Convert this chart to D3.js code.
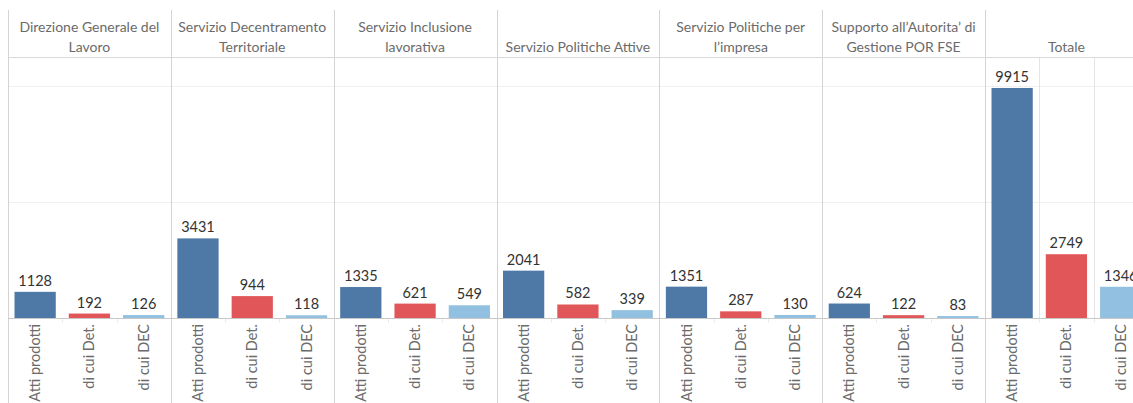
<!DOCTYPE html>
<html>
<head>
<meta charset="utf-8">
<script src="https://cdn.jsdelivr.net/npm/d3@7"></script>
<style>
  body { margin: 0; background: #fff; }
  svg { display: block; font-family: Lato, "Open Sans", sans-serif; }
</style>
</head>
<body>
<div id="chart-area"></div>
<script>
// data
const categories = [
  "Direzione Generale del Lavoro",
  "Servizio Decentramento Territoriale",
  "Servizio Inclusione lavorativa",
  "Servizio Politiche Attive",
  "Servizio Politiche per l\u2019impresa",
  "Supporto all\u2019Autorita\u2019 di Gestione POR FSE",
  "Totale"
];
const measures = ["Atti prodotti", "di cui Det.", "di cui DEC"];
const attiProdotti = [1128, 3431, 1335, 2041, 1351, 624, 9915];
const diCuiDet = [192, 944, 621, 582, 287, 122, 2749];
const diCuiDec = [126, 118, 549, 339, 130, 83, 1346];
const gridValues = [5000, 10000];

const svgWidth = 1133;
const svgHeight = 403;
const svg = d3.select("#chart-area")
  .append("svg")
  .attr("width", svgWidth)
  .attr("height", svgHeight);

const left = 8;
const panelWidth = (985 - left) / 6;
const headerTop = 10;
const headerBottom = 57;
const baseline = 318;

const rows = [];
categories.forEach((c, i) => {
  rows.push({ cat: c, measure: measures[0], value: attiProdotti[i] });
  rows.push({ cat: c, measure: measures[1], value: diCuiDet[i] });
  rows.push({ cat: c, measure: measures[2], value: diCuiDec[i] });
});

const xPanel = d3.scaleBand()
  .domain(categories)
  .range([left, left + panelWidth * categories.length]);

const xBar = d3.scaleBand()
  .domain(measures)
  .range([0, panelWidth])
  .paddingInner(0.24)
  .paddingOuter(0.12);

const xBand = d3.scaleBand()
  .domain(measures)
  .range([0, panelWidth]);

const y = d3.scaleLinear()
  .domain([0, 11250])
  .range([baseline, headerBottom]);

const color = d3.scaleOrdinal()
  .domain(measures)
  .range(["#4e79a7", "#e15759", "#92c0e0"]);

// horizontal gridlines
svg.selectAll("line.grid")
  .data(gridValues)
  .enter()
  .append("line")
  .attr("class", "grid")
  .attr("x1", left)
  .attr("x2", svgWidth)
  .attr("y1", d => Math.round(y(d)) + 0.5)
  .attr("y2", d => Math.round(y(d)) + 0.5)
  .attr("stroke", "#f0f0f0");

// inner column lines of the Totale panel
const last = categories[categories.length - 1];
svg.selectAll("line.inner")
  .data(measures.slice(1))
  .enter()
  .append("line")
  .attr("class", "inner")
  .attr("x1", d => Math.round(xPanel(last) + xBand(d)) + 0.5)
  .attr("x2", d => Math.round(xPanel(last) + xBand(d)) + 0.5)
  .attr("y1", headerBottom)
  .attr("y2", baseline)
  .attr("stroke", "#e4e4e4");

// small separators under the baseline
svg.selectAll("line.sep")
  .data(rows.filter(d => d.measure !== measures[0]))
  .enter()
  .append("line")
  .attr("class", "sep")
  .attr("x1", d => Math.round(xPanel(d.cat) + xBand(d.measure)) + 0.5)
  .attr("x2", d => Math.round(xPanel(d.cat) + xBand(d.measure)) + 0.5)
  .attr("y1", baseline)
  .attr("y2", baseline + 5)
  .attr("stroke", "#ececec");

// panel separators
svg.selectAll("line.panel")
  .data(categories)
  .enter()
  .append("line")
  .attr("class", "panel")
  .attr("x1", d => Math.round(xPanel(d)) + 0.5)
  .attr("x2", d => Math.round(xPanel(d)) + 0.5)
  .attr("y1", headerTop)
  .attr("y2", svgHeight)
  .attr("stroke", "#d3d3d3");

// header bottom line
svg.append("line")
  .attr("x1", left).attr("x2", svgWidth)
  .attr("y1", headerBottom + 0.5).attr("y2", headerBottom + 0.5)
  .attr("stroke", "#d9d9d9");

// bars
svg.selectAll("rect.bar")
  .data(rows)
  .enter()
  .append("rect")
  .attr("class", "bar")
  .attr("x", d => xPanel(d.cat) + xBar(d.measure))
  .attr("y", d => y(d.value))
  .attr("width", xBar.bandwidth())
  .attr("height", d => baseline - y(d.value))
  .attr("fill", d => color(d.measure));

// baseline
svg.append("line")
  .attr("x1", left).attr("x2", svgWidth)
  .attr("y1", baseline + 0.5).attr("y2", baseline + 0.5)
  .attr("stroke", "#c8c8c8");

// value labels
svg.selectAll("text.value")
  .data(rows)
  .enter()
  .append("text")
  .attr("class", "value")
  .attr("x", d => xPanel(d.cat) + xBar(d.measure) + xBar.bandwidth() / 2)
  .attr("y", d => y(d.value) - 6)
  .attr("text-anchor", "middle")
  .attr("font-size", 14.5)
  .attr("fill", "#333")
  .text(d => d.value);

// measure labels (rotated)
svg.selectAll("text.measure")
  .data(rows)
  .enter()
  .append("text")
  .attr("class", "measure")
  .attr("transform", d => {
    const cx = xPanel(d.cat) + xBand(d.measure) + xBand.bandwidth() / 2;
    return `translate(${cx},${baseline + 6}) rotate(-90)`;
  })
  .attr("dy", "0.35em")
  .attr("text-anchor", "end")
  .attr("font-size", 14.5)
  .attr("fill", "#6b6b6b")
  .text(d => d.measure);

// headers, wrapped to the panel width and bottom-aligned
const headers = svg.selectAll("text.header")
  .data(categories)
  .enter()
  .append("text")
  .attr("class", "header")
  .attr("text-anchor", "middle")
  .attr("font-size", 14)
  .attr("fill", "#6b6b6b");

headers.each(function(d) {
  const t = d3.select(this);
  const words = d.split(" ");
  const lines = [];
  let line = [];
  const probe = t.append("tspan");
  words.forEach(w => {
    const trial = line.concat([w]).join(" ");
    probe.text(trial);
    if (probe.node().getComputedTextLength() > panelWidth - 1 && line.length) {
      lines.push(line.join(" "));
      line = [w];
    } else {
      line.push(w);
    }
  });
  lines.push(line.join(" "));
  probe.remove();
  const cx = xPanel(d) + panelWidth / 2;
  lines.forEach((l, i) => {
    t.append("tspan")
      .attr("x", cx)
      .attr("y", 52 - (lines.length - 1 - i) * 20)
      .text(l);
  });
});
</script>
</body>
</html>
